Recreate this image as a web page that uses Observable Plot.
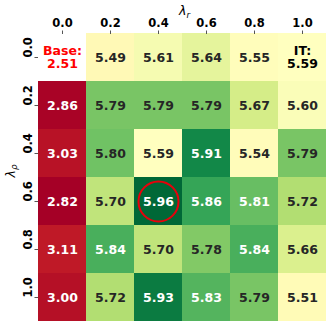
<!DOCTYPE html>
<html><head><meta charset="utf-8">
<script src="https://cdn.jsdelivr.net/npm/d3@7"></script>
<script src="https://cdn.jsdelivr.net/npm/@observablehq/plot@0.6"></script>
<style>body{margin:0;background:#fff}</style>
</head><body><div id="chart"></div>
<script>
const lambdaR = ["0.0","0.2","0.4","0.6","0.8","1.0"];
const lambdaRho = ["0.0","0.2","0.4","0.6","0.8","1.0"];
const row00 = [2.51,5.49,5.61,5.64,5.55,5.59];
const row02 = [2.86,5.79,5.79,5.79,5.67,5.60];
const row04 = [3.03,5.80,5.59,5.91,5.54,5.79];
const row06 = [2.82,5.70,5.96,5.86,5.81,5.72];
const row08 = [3.11,5.84,5.70,5.78,5.84,5.66];
const row10 = [3.00,5.72,5.93,5.83,5.79,5.51];
const rows = [row00,row02,row04,row06,row08,row10];
const baseLabel = "Base:";
const itLabel = "IT:";
const rdYlGn = ["#a50026","#d73027","#f46d43","#fdae61","#fee08b","#ffffbf","#d9ef8b","#a6d96a","#66bd63","#1a9850","#006837"];

const cells = [];
rows.forEach((row,i)=>row.forEach((v,j)=>cells.push({r:lambdaR[j], rho:lambdaRho[i], v, i, j})));
const base = cells.find(d=>d.i===0&&d.j===0);
const it = cells.find(d=>d.i===0&&d.j===lambdaR.length-1);
const grid = cells.filter(d=>d!==base);
const plain = grid.filter(d=>d!==it);
const best = grid.reduce((a,b)=>b.v>a.v?b:a);
const vmin = d3.min(grid,d=>d.v), vmax = d3.max(grid,d=>d.v);
const colorOpts = {type:"diverging", domain:[vmin,vmax], pivot: it.v, symmetric:false,
  interpolate: d3.piecewise(d3.interpolateRgb, rdYlGn)};
const cscale = Plot.scale({color: colorOpts});
function lum(c){const {r,g,b}=d3.rgb(c);const f=x=>{x/=255;return x<=0.03928?x/12.92:Math.pow((x+0.055)/1.055,2.4)};return 0.2126*f(r)+0.7152*f(g)+0.0722*f(b);}
const textColor = v => lum(cscale.apply(v)) > 0.408 ? "#262626" : "#ffffff";

const svg = Plot.plot({
  width: 332, height: 325,
  marginLeft: 38, marginTop: 33, marginRight: 6, marginBottom: 4,
  style: {fontFamily: "DejaVu Sans", fontSize: "11.5px", background: "#fff"},
  x: {domain: lambdaR, padding: 0},
  y: {domain: lambdaRho, padding: 0},
  color: colorOpts,
  marks: [
    Plot.cell(grid, {x:"r", y:"rho", fill:"v", shapeRendering:"crispEdges"}),
    Plot.text(plain, {x:"r", y:"rho", text: d=>d.v.toFixed(2), fill: d=>textColor(d.v), fontWeight:"bold", fontSize:12.5}),
    Plot.text([base], {x:"r", y:"rho", text: d=>`${baseLabel}\n${d.v.toFixed(2)}`, fill:"#ff0000", fontWeight:"bold", fontSize:12.5, lineHeight:1}),
    Plot.text([it], {x:"r", y:"rho", text: d=>`${itLabel}\n${d.v.toFixed(2)}`, fill:"#000000", fontWeight:"bold", fontSize:12.5, lineHeight:1}),
    Plot.dot([best], {x:"r", y:"rho", r:20, stroke:"#e8000b", strokeWidth:2, fill:"none"}),
    Plot.axisX({anchor:"top", tickSize:3.5, tickPadding:3, fontWeight:"bold", fontSize:11.5, label:null, stroke:"#555"}),
    Plot.axisY({anchor:"left", tickSize:3.5, tickFormat:()=>"", label:null, stroke:"#555"}),
    Plot.text(lambdaRho, {y:d=>d, frameAnchor:"left", dx:-10, rotate:-90, text:d=>d, fontWeight:"bold", fontSize:11.5, fill:"#000"}),
    Plot.text(["λ_r"], {frameAnchor:"top", dx:2, dy:-27, text:d=>d, fontSize:12.5, fill:"#000"}),
    Plot.text(["λ_ρ"], {frameAnchor:"left", dx:-28, rotate:-90, text:d=>d, fontSize:12.5, fill:"#000"})
  ]
});
d3.select(svg).selectAll("text").each(function(){
  const t = this.textContent;
  if (t === "λ_r" || t === "λ_ρ") {
    const sub = t.slice(2);
    const el = d3.select(this);
    el.text(null);
    el.append("tspan").attr("font-style","italic").text("λ");
    el.append("tspan").attr("font-style","italic").attr("font-size","0.7em").attr("dy","0.3em").text(sub);
  }
});
document.getElementById("chart").appendChild(svg);
</script>
</body></html>
